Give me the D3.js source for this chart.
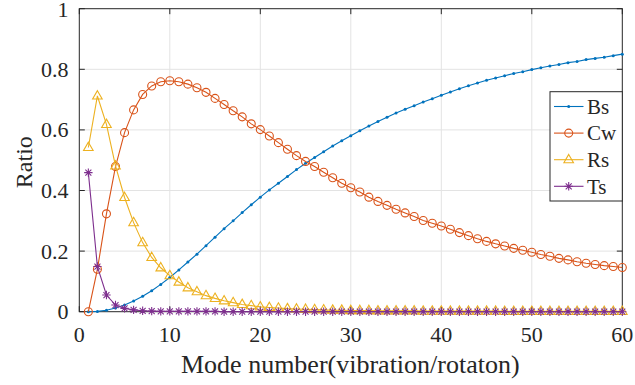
<!DOCTYPE html>
<html>
<head>
<meta charset="utf-8">
<script src="https://cdn.jsdelivr.net/npm/d3@7"></script>
</head>
<body style="margin:0">
<svg id="chart" width="635" height="385"></svg>
<script>
// Mode numbers along the horizontal axis
const modes = [1,2,3,4,5,6,7,8,9,10,11,12,13,14,15,16,17,18,19,20,
  21,22,23,24,25,26,27,28,29,30,31,32,33,34,35,36,37,38,39,40,
  41,42,43,44,45,46,47,48,49,50,51,52,53,54,55,56,57,58,59,60];

// Ratio of each contribution per mode
const bsValues = [0.000,0.001,0.005,0.012,0.022,0.035,0.051,0.069,0.090,0.113,
  0.138,0.164,0.190,0.218,0.246,0.274,0.300,0.327,0.353,0.378,
  0.402,0.424,0.446,0.469,0.490,0.509,0.528,0.547,0.564,0.581,
  0.597,0.613,0.628,0.642,0.656,0.668,0.680,0.692,0.703,0.714,
  0.725,0.736,0.746,0.755,0.764,0.771,0.779,0.786,0.792,0.799,
  0.805,0.811,0.816,0.822,0.826,0.832,0.836,0.840,0.845,0.850];

const cwValues = [0.000,0.140,0.323,0.479,0.591,0.666,0.717,0.745,0.759,0.762,
  0.759,0.751,0.739,0.724,0.704,0.684,0.663,0.643,0.620,0.601,
  0.580,0.558,0.536,0.515,0.496,0.479,0.460,0.442,0.424,0.409,
  0.395,0.378,0.364,0.351,0.338,0.326,0.314,0.301,0.292,0.283,
  0.272,0.261,0.251,0.241,0.232,0.224,0.217,0.209,0.203,0.196,
  0.189,0.183,0.176,0.171,0.165,0.160,0.156,0.152,0.149,0.146];

const rsValues = [0.542,0.712,0.618,0.481,0.377,0.294,0.228,0.179,0.145,0.119,
  0.098,0.079,0.066,0.053,0.044,0.036,0.030,0.024,0.020,0.016,
  0.014,0.012,0.010,0.009,0.008,0.007,0.006,0.005,0.005,0.004,
  0.004,0.004,0.003,0.003,0.003,0.003,0.003,0.002,0.002,0.002,
  0.002,0.002,0.002,0.002,0.002,0.002,0.001,0.001,0.001,0.001,
  0.001,0.001,0.001,0.001,0.001,0.001,0.001,0.001,0.001,0.001];

const tsValues = [0.459,0.149,0.055,0.022,0.011,0.006,0.003,0.002,0.001,0.001,
  0.001,0.001,0.001,0.001,0.001,0.000,0.000,0.000,0.000,0.000,
  0.000,0.000,0.000,0.000,0.000,0.000,0.000,0.000,0.000,0.000,
  0.000,0.000,0.000,0.000,0.000,0.000,0.000,0.000,0.000,0.000,
  0.000,0.000,0.000,0.000,0.000,0.000,0.000,0.000,0.000,0.000,
  0.000,0.000,0.000,0.000,0.000,0.000,0.000,0.000,0.000,0.000];

const seriesNames = ["Bs", "Cw", "Rs", "Ts"];
const xTicks = [0, 10, 20, 30, 40, 50, 60];
const yTicks = [0, 0.2, 0.4, 0.6, 0.8, 1];
const yTickLabels = ["0", "0.2", "0.4", "0.6", "0.8", "1"];
const xLabel = "Mode number(vibration/rotaton)";
const yLabel = "Ratio";

const series = [
  { name: seriesNames[0], values: bsValues, color: "#0072BD", marker: "dot" },
  { name: seriesNames[1], values: cwValues, color: "#D95319", marker: "circle" },
  { name: seriesNames[2], values: rsValues, color: "#EDB120", marker: "triangle" },
  { name: seriesNames[3], values: tsValues, color: "#7E2F8E", marker: "asterisk" }
];

const FONT = '"Liberation Serif"';
const svg = d3.select("#chart");
const plot = { left: 79.3, right: 622.3, top: 8.7, bottom: 311.7 };
const axisColor = "#262626";

const x = d3.scaleLinear().domain([0, 60]).range([plot.left, plot.right]);
const y = d3.scaleLinear().domain([0, 1]).range([plot.bottom, plot.top]);

// all text goes through one helper so the serif face is set the same way
function addText(parent, str, size) {
  const t = parent.append("text").attr("font-size", size)
    .style("font-family", FONT).attr("fill", axisColor).text(str);
  t.node().getComputedTextLength();
  return t;
}

// grid
const grid = svg.append("g").attr("stroke", "#e3e3e3").attr("stroke-width", 1);
grid.selectAll("line.gx").data(xTicks.slice(1, -1)).join("line")
  .attr("x1", d => x(d)).attr("x2", d => x(d))
  .attr("y1", plot.top).attr("y2", plot.bottom);
grid.selectAll("line.gy").data(yTicks.slice(1, -1)).join("line")
  .attr("x1", plot.left).attr("x2", plot.right)
  .attr("y1", d => y(d)).attr("y2", d => y(d));

// inward ticks on all four sides
const tickLen = 5.5;
const ticks = svg.append("g").attr("stroke", axisColor).attr("stroke-width", 1);
xTicks.forEach(v => {
  ticks.append("line").attr("x1", x(v)).attr("x2", x(v)).attr("y1", plot.bottom).attr("y2", plot.bottom - tickLen);
  ticks.append("line").attr("x1", x(v)).attr("x2", x(v)).attr("y1", plot.top).attr("y2", plot.top + tickLen);
});
yTicks.forEach(v => {
  ticks.append("line").attr("x1", plot.left).attr("x2", plot.left + tickLen).attr("y1", y(v)).attr("y2", y(v));
  ticks.append("line").attr("x1", plot.right).attr("x2", plot.right - tickLen).attr("y1", y(v)).attr("y2", y(v));
});

// tick labels
const fontTick = 22;
const labels = svg.append("g");
xTicks.forEach(v => {
  addText(labels, String(v), fontTick).attr("x", x(v)).attr("y", 341.5).attr("text-anchor", "middle");
});
yTicks.forEach((v, i) => {
  addText(labels, yTickLabels[i], fontTick).attr("x", 68.5)
    .attr("y", Math.max(y(v), 9.5)).attr("dy", "0.34em").attr("text-anchor", "end");
});

svg.append("rect")
  .attr("x", plot.left).attr("y", plot.top)
  .attr("width", plot.right - plot.left).attr("height", plot.bottom - plot.top)
  .attr("fill", "none").attr("stroke", axisColor).attr("stroke-width", 1);

// axis titles
addText(svg, xLabel, 26).attr("x", (plot.left + plot.right) / 2 - 0.5).attr("y", 373)
  .attr("text-anchor", "middle");
addText(svg, yLabel, 24)
  .attr("transform", `translate(31.5,${(plot.top + plot.bottom) / 2 + 2}) rotate(-90)`)
  .attr("text-anchor", "middle");

// marker drawing
function drawMarker(g, type, color) {
  if (type === "dot") {
    g.append("circle").attr("r", 1.5).attr("fill", color);
  } else if (type === "circle") {
    g.append("circle").attr("r", 4).attr("fill", "none")
      .attr("stroke", color).attr("stroke-width", 1.1);
  } else if (type === "triangle") {
    g.append("path").attr("d", "M0,-5.3L4.8,3.1L-4.8,3.1Z").attr("fill", "none")
      .attr("stroke", color).attr("stroke-width", 1.1);
  } else if (type === "asterisk") {
    g.append("path").attr("d", "M-4.2,0H4.2M0,-4.2V4.2M-3,-3L3,3M-3,3L3,-3")
      .attr("fill", "none").attr("stroke", color).attr("stroke-width", 1.1);
  }
}

const line = d3.line().x(d => x(d[0])).y(d => y(d[1]));

series.forEach(s => {
  const pts = modes.map((m, i) => [m, s.values[i]]);
  const g = svg.append("g");
  g.append("path").datum(pts).attr("d", line)
    .attr("fill", "none").attr("stroke", s.color).attr("stroke-width", 1.1);
  g.selectAll("g.mk").data(pts).join("g")
    .attr("transform", d => `translate(${x(d[0])},${y(d[1])})`)
    .each(function () { drawMarker(d3.select(this), s.marker, s.color); });
});

// legend
const legend = { x: 550, y: 91.7, w: 72.3, h: 109.3 };
const lg = svg.append("g");
lg.append("rect").attr("x", legend.x).attr("y", legend.y)
  .attr("width", legend.w).attr("height", legend.h)
  .attr("fill", "#fff").attr("stroke", axisColor).attr("stroke-width", 1);
series.forEach((s, i) => {
  const cy = 106.5 + i * 26.6;
  const row = lg.append("g");
  row.append("line").attr("x1", 554).attr("x2", 583.5).attr("y1", cy).attr("y2", cy)
    .attr("stroke", s.color).attr("stroke-width", 1.1);
  drawMarker(row.append("g").attr("transform", `translate(568.7,${cy})`), s.marker, s.color);
  addText(row, s.name, 21).attr("x", 587).attr("y", cy).attr("dy", "0.35em");
});
</script>
</body>
</html>
